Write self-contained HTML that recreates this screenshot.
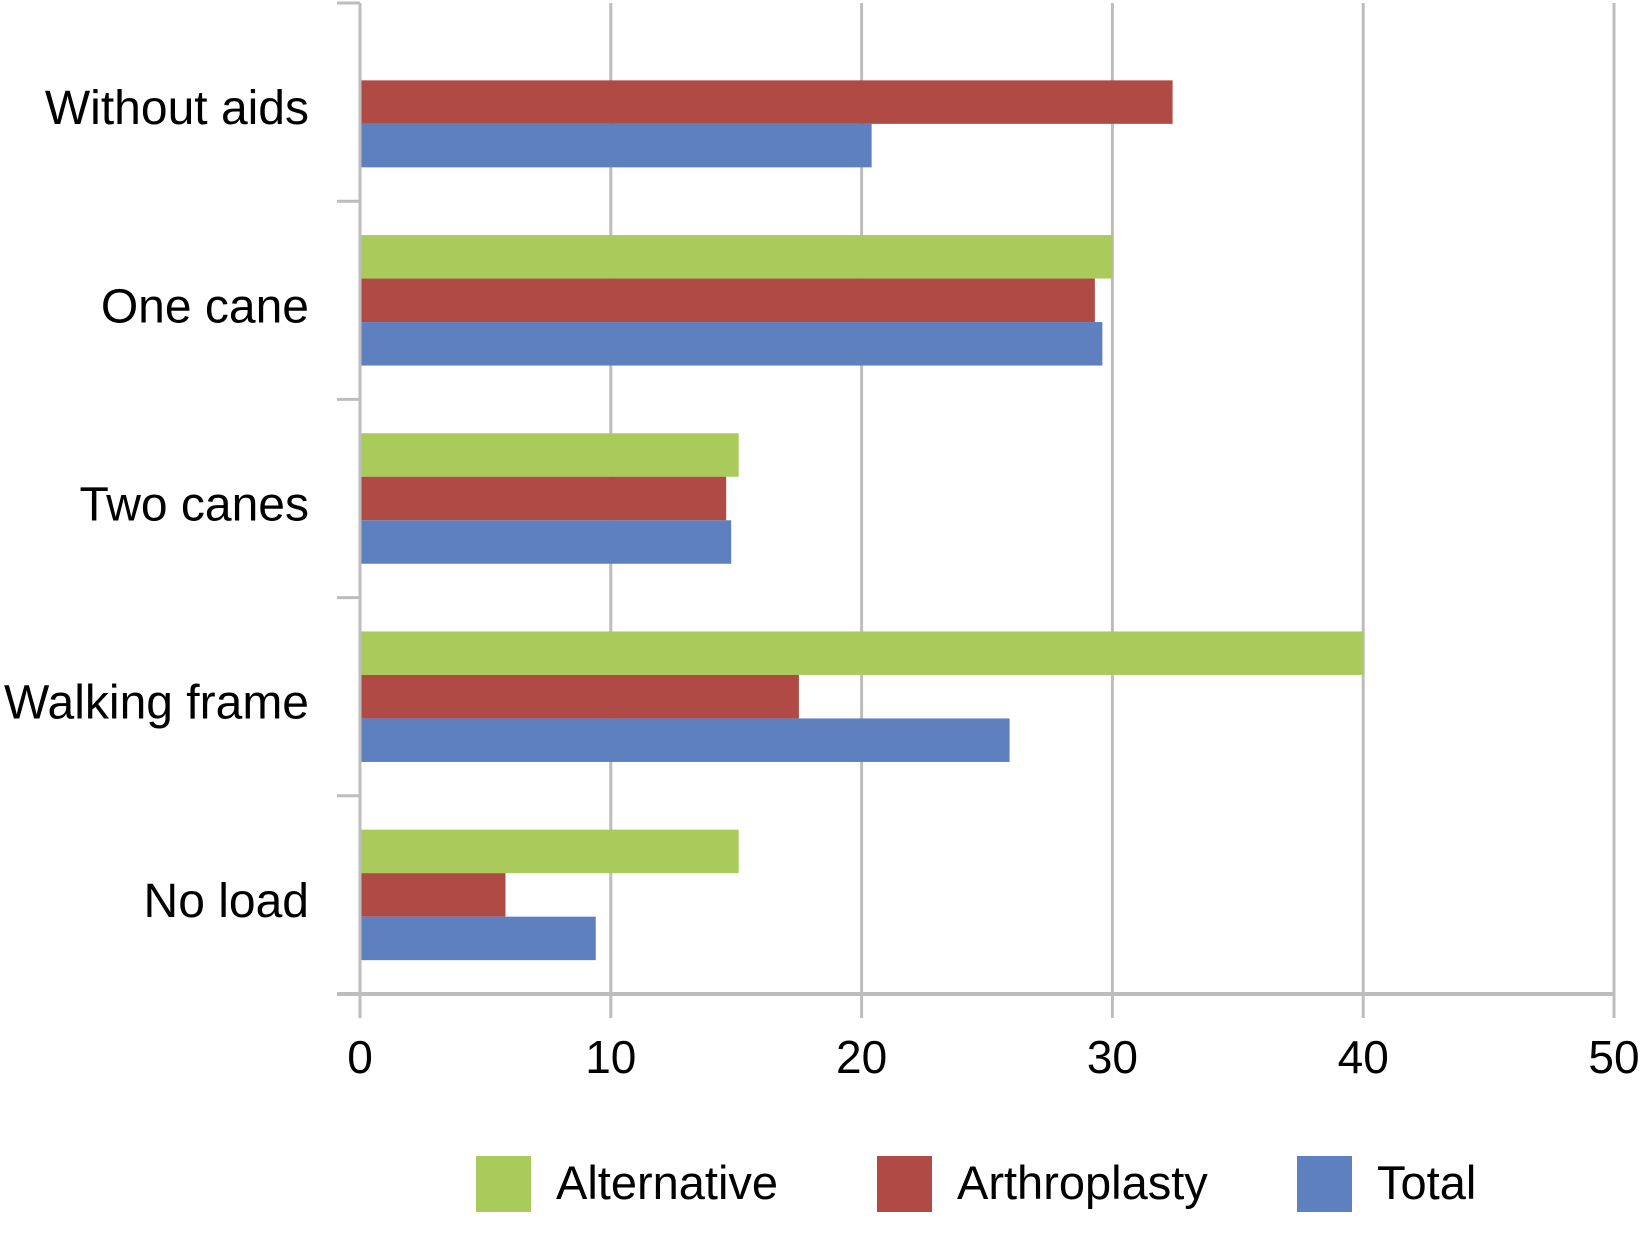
<!DOCTYPE html>
<html><head><meta charset="utf-8"><style>
html,body{margin:0;padding:0;background:#fff;}
svg{display:block;font-family:"Liberation Sans",Arial,sans-serif;}
</style></head><body>
<svg id="chart" width="1641" height="1257" viewBox="0 0 1641 1257"></svg>
<script>
const categories = ["Without aids","One cane","Two canes","Walking frame","No load"];
const seriesNames = ["Alternative","Arthroplasty","Total"];
const alternative = [0, 30.0, 15.1, 40.0, 15.1];
const arthroplasty = [32.4, 29.3, 14.6, 17.5, 5.8];
const total = [20.4, 29.6, 14.8, 25.9, 9.4];
const xTicks = [0,10,20,30,40,50];
const colors = ["#a9cb5b","#b04a45","#5f80be"];

const svg = document.getElementById('chart');
const NS = "http://www.w3.org/2000/svg";
const x0 = 360, x1 = 1614, xMax = 50;
const yTop = 3, yBot = 994;
const band = (yBot - yTop) / categories.length;
const barH = 43.5;
function xs(v){ return x0 + v/xMax*(x1-x0); }
function mk(tag, attrs){ const e=document.createElementNS(NS,tag); for(const k in attrs) e.setAttribute(k,attrs[k]); svg.appendChild(e); return e; }

xTicks.forEach((t,i)=>{
  const g = mk('line',{x1:xs(t),x2:xs(t),y1:yTop,y2:1018,stroke:'#bdbdbd','stroke-width':3});
  
  
  const lb = mk('text',{x:xs(t),y:1073,'font-size':46,'text-anchor':'middle',fill:'#000'});
  lb.textContent = t;
  
  
});
for(let i=0;i<=categories.length;i++){
  const y = yTop + i*band;
  const tk = mk('line',{x1:337,x2:x0,y1:y,y2:y,stroke:'#bdbdbd','stroke-width':3});
  
  
}
const xa = mk('line',{x1:337,x2:x1,y1:yBot,y2:yBot,stroke:'#bdbdbd','stroke-width':4});



const data = [alternative, arthroplasty, total];
categories.forEach((c,i)=>{
  const center = yTop + (i+0.5)*band;
  const start = center - 1.5*barH;
  data.forEach((arr,s)=>{
    if(arr[i] <= 0) return;
    const r = mk('rect',{x:x0+1,y:start+s*barH,width:xs(arr[i])-x0-1,height:barH,fill:colors[s]});
    
    
  });
  const t = mk('text',{x:309,y:center+22,'font-size':48,'text-anchor':'end',fill:'#000'});
  t.textContent = c;
  
  
});
const ya = mk('line',{x1:x0,x2:x0,y1:yTop,y2:1018,stroke:'#bdbdbd','stroke-width':3});



const legX = [476, 877, 1297];
seriesNames.forEach((n,s)=>{
  const sw = mk('rect',{x:legX[s],y:1156,width:55,height:56,fill:colors[s]});
  
  
  const t = mk('text',{x:legX[s]+80,y:1199,'font-size':47,fill:'#000'});
  t.textContent = n;
  
  
});
</script>
</body></html>
